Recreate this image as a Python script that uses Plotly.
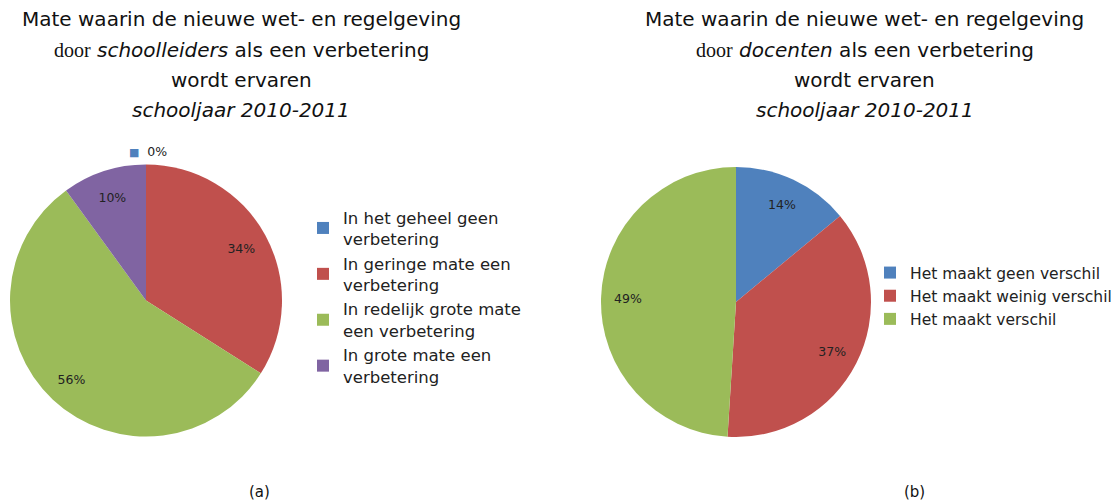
import plotly.graph_objects as go

labels_a = ["In het geheel geen<br>verbetering", "In geringe mate een<br>verbetering",
            "In redelijk grote mate<br>een verbetering", "In grote mate een<br>verbetering"]
values_a = [0, 34, 56, 10]
labels_b = ["Het maakt geen verschil", "Het maakt weinig verschil", "Het maakt verschil"]
values_b = [14, 37, 49]
colors_a = ["#4F81BD", "#C0504D", "#9BBB59", "#8064A2"]
colors_b = ["#4F81BD", "#C0504D", "#9BBB59"]

FONT = "Verdana, DejaVu Sans, sans-serif"
OFF = 8            # default page body margin shifts the figure by this much
W, H = 1120, 504


def px(x):
    return (x - OFF) / W


def py(y):
    return 1 - (y - OFF) / H


dom_a = dict(x=[px(10), px(282)], y=[py(437), py(164)])
dom_b = dict(x=[px(601), px(871)], y=[py(437), py(167)])

fig = go.Figure()


def add_pie(labels, values, colors, dom, legend):
    fig.add_trace(go.Pie(
        labels=labels, values=values, sort=False, direction="clockwise", rotation=0,
        marker=dict(colors=colors, line=dict(width=0)),
        textinfo="none", domain=dom, legend=legend, hoverinfo="label+percent",
    ))
    # transparent ring carrying the data labels at ~0.8 R
    fig.add_trace(go.Pie(
        labels=labels, values=values, sort=False, direction="clockwise", rotation=0,
        hole=0.6, marker=dict(colors=["rgba(0,0,0,0)"] * len(values), line=dict(width=0)),
        text=[f"{v}%" if v > 0 else "" for v in values], textinfo="text",
        textposition="inside", insidetextorientation="horizontal",
        textfont=dict(family=FONT, size=12.5, color="#222"),
        domain=dom, showlegend=False, hoverinfo="skip", legend=legend,
    ))


add_pie(labels_a, values_a, colors_a, dom_a, "legend")
add_pie(labels_b, values_b, colors_b, dom_b, "legend2")

SERIF = "<span style='font-family:Liberation Serif, Times New Roman, serif'>door</span>"
title_a = ["Mate waarin de nieuwe wet- en regelgeving",
           SERIF + " <i>schoolleiders</i> als een verbetering",
           "wordt ervaren", "<i>schooljaar 2010-2011</i>"]
title_b = ["Mate waarin de nieuwe wet- en regelgeving",
           SERIF + " <i>docenten</i> als een verbetering",
           "wordt ervaren", "<i>schooljaar 2010-2011</i>"]

ann = []
for lines, cx in ((title_a, 241), (title_b, 865)):
    for i, t in enumerate(lines):
        ann.append(dict(x=px(cx), y=py(19 + 30.5 * i), xref="paper", yref="paper",
                        text=t, showarrow=False, xanchor="center", yanchor="middle",
                        font=dict(family=FONT, size=20, color="#111")))
ann.append(dict(x=px(148), y=py(151), xref="paper", yref="paper",
                text="<span style='color:#4F81BD;font-size:11px'>■</span>  0%", showarrow=False,
                xanchor="center", yanchor="middle",
                font=dict(family=FONT, size=12.5, color="#222")))
ann.append(dict(x=px(259), y=py(492), xref="paper", yref="paper", text="(a)",
                xanchor="center", yanchor="middle",
                showarrow=False, font=dict(family=FONT, size=15, color="#111")))
ann.append(dict(x=px(914), y=py(492), xref="paper", yref="paper", text="(b)",
                xanchor="center", yanchor="middle",
                showarrow=False, font=dict(family=FONT, size=15, color="#111")))

fig.update_layout(
    width=W, height=H, margin=dict(l=0, r=0, t=0, b=0),
    paper_bgcolor="white", plot_bgcolor="white",
    annotations=ann,
    legend=dict(x=px(303), y=py(200), xanchor="left", yanchor="top",
                font=dict(family=FONT, size=16.5, color="#222"),
                itemwidth=30, bgcolor="rgba(0,0,0,0)"),
    legend2=dict(x=px(870), y=py(256), xanchor="left", yanchor="top",
                 font=dict(family=FONT, size=15.5, color="#222"),
                 itemwidth=30, bgcolor="rgba(0,0,0,0)"),
)
fig.write_html("out.html", config={"displayModeBar": False})
